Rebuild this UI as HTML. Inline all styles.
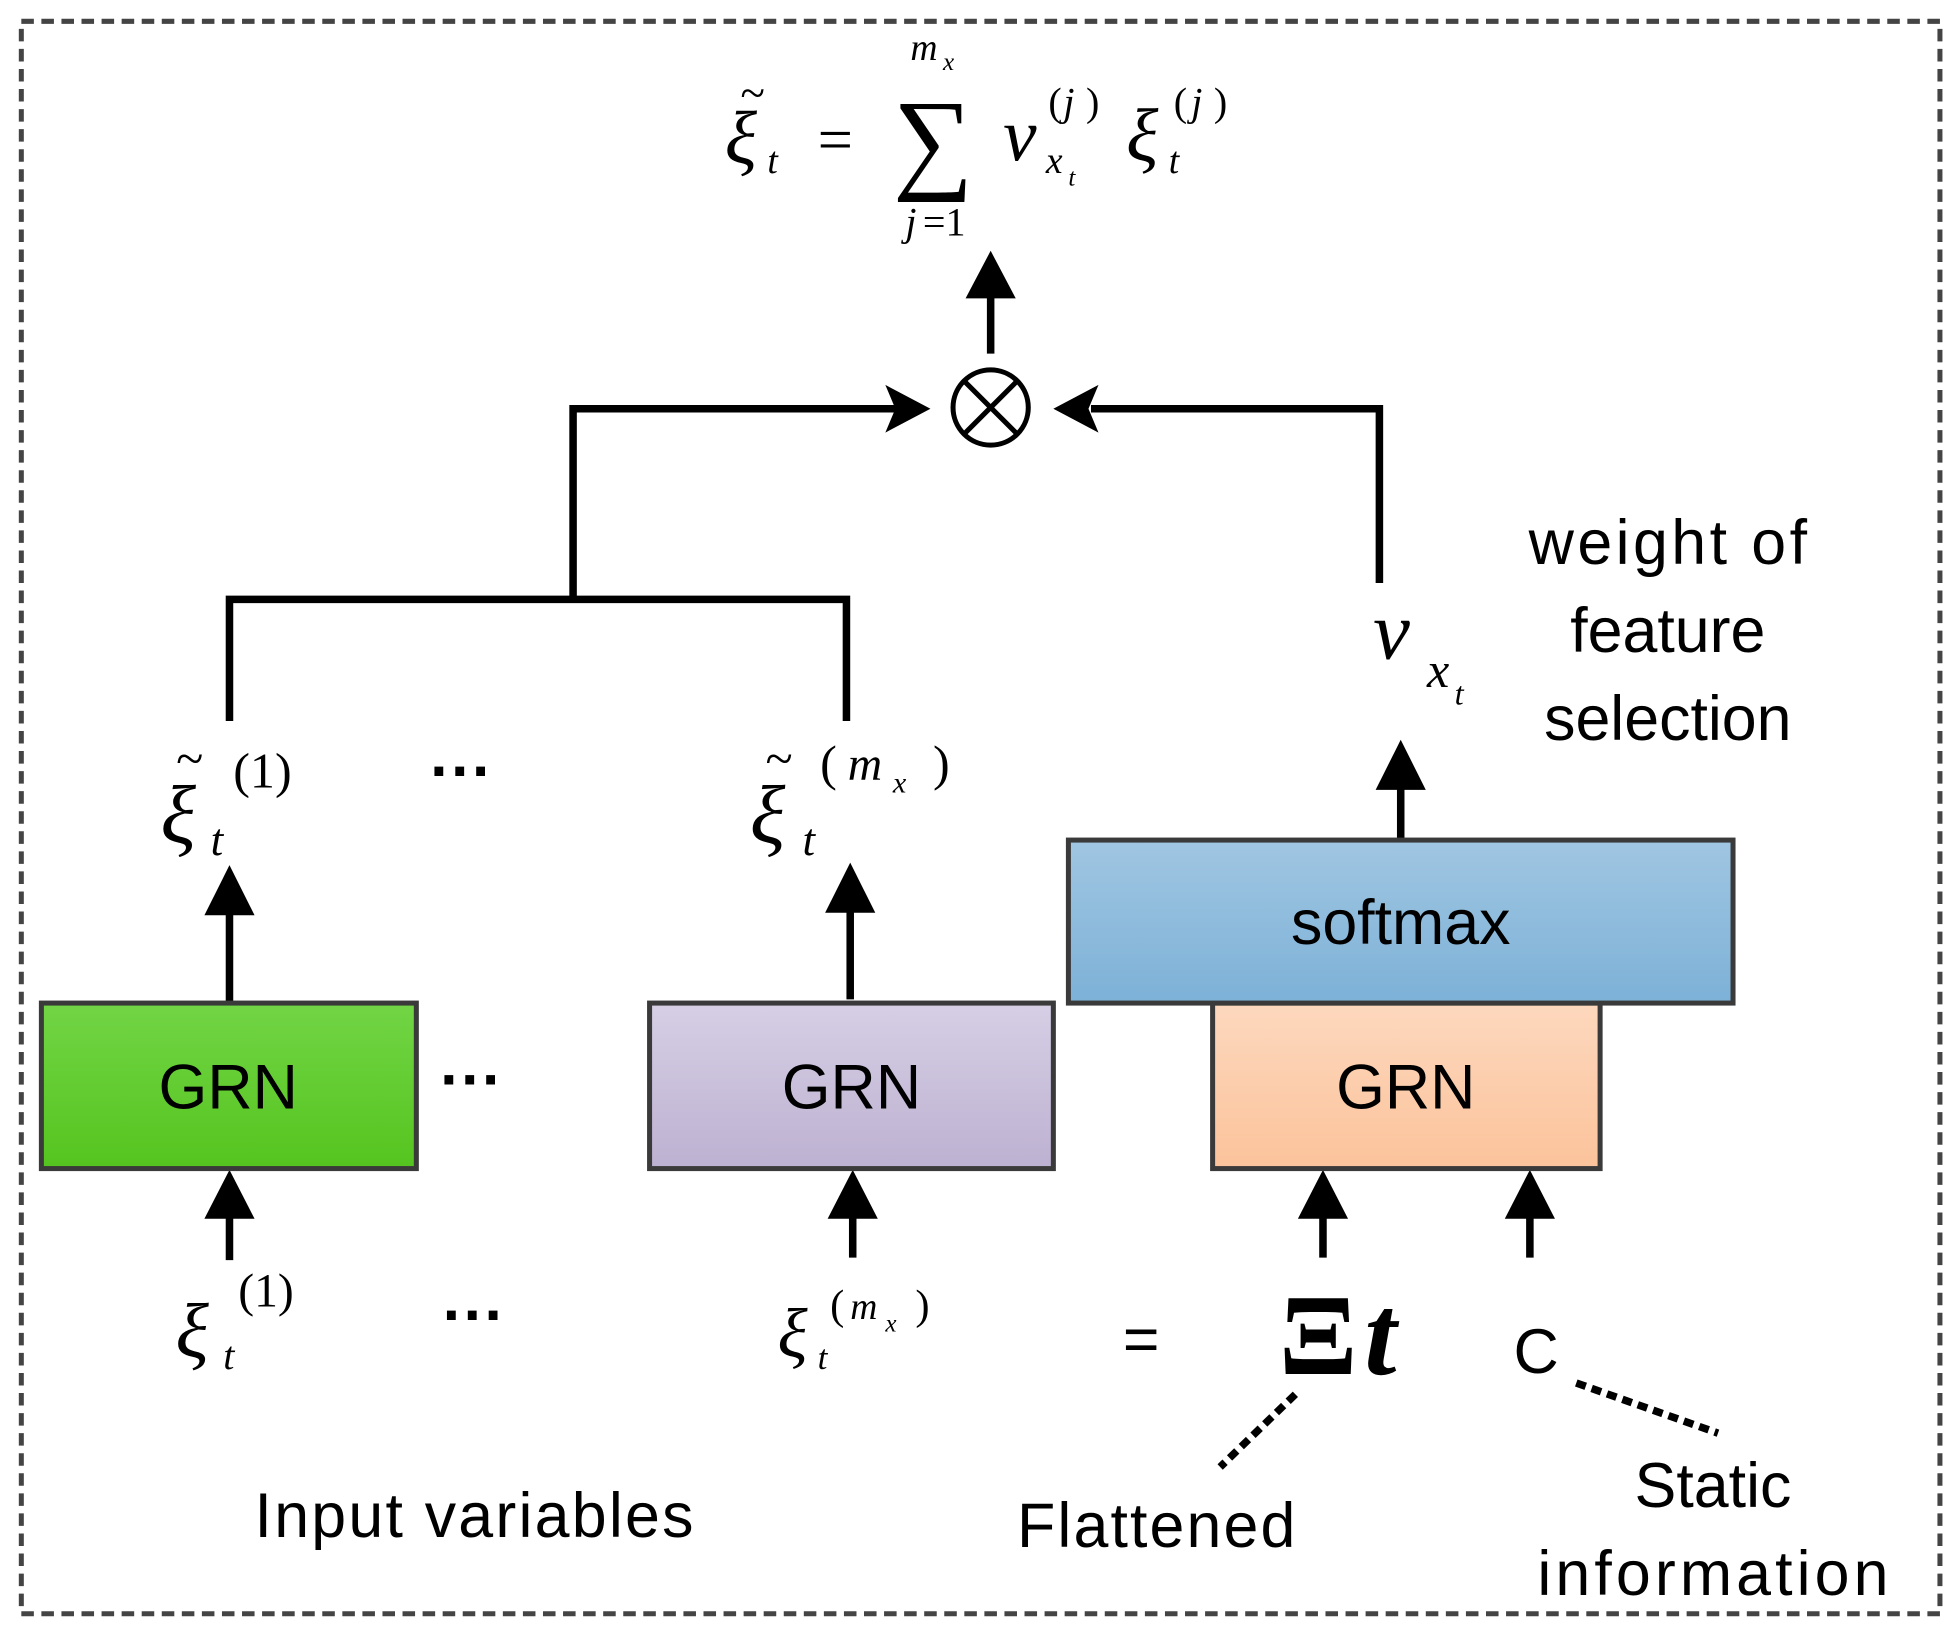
<!DOCTYPE html>
<html><head><style>html,body{margin:0;padding:0;background:#fff}svg{display:block}</style></head><body>
<svg width="1960" height="1630" viewBox="0 0 1563 1300" preserveAspectRatio="none" xmlns="http://www.w3.org/2000/svg">
<defs>
<linearGradient id="g1" x1="0" y1="0" x2="0" y2="1"><stop offset="0" stop-color="#72d545"/><stop offset="1" stop-color="#55c41f"/></linearGradient>
<linearGradient id="g2" x1="0" y1="0" x2="0" y2="1"><stop offset="0" stop-color="#d6cfe5"/><stop offset="1" stop-color="#bdb1d1"/></linearGradient>
<linearGradient id="g3" x1="0" y1="0" x2="0" y2="1"><stop offset="0" stop-color="#a0c6e2"/><stop offset="1" stop-color="#7db1d7"/></linearGradient>
<linearGradient id="g4" x1="0" y1="0" x2="0" y2="1"><stop offset="0" stop-color="#fdd8be"/><stop offset="1" stop-color="#fbc39b"/></linearGradient>
</defs>
<rect x="17" y="17" width="1530" height="1270" fill="none" stroke="#444" stroke-width="4" stroke-dasharray="10 6"/>
<g font-family="Liberation Serif, serif" font-style="italic" fill="#000">
<text x="578" y="130" font-size="60">ξ</text><text x="590" y="86" font-size="36">~</text><text x="612" y="138" font-size="30">t</text>
<text x="652" y="128" font-size="50" font-style="normal">=</text>
<text x="712" y="142" font-size="90" font-style="normal">∑</text>
<text x="726" y="48" font-size="30">m</text><text x="752" y="56" font-size="20">x</text>
<text x="722" y="188" font-size="32">j</text><text x="736" y="188" font-size="32" font-style="normal">=1</text>
<text x="800" y="128" font-size="60">v</text><text x="836" y="92" font-size="32" font-style="normal">(</text><text x="848" y="92" font-size="32">j</text><text x="866" y="92" font-size="32" font-style="normal">)</text>
<text x="834" y="138" font-size="30">x</text><text x="852" y="148" font-size="20">t</text>
<text x="898" y="128" font-size="60">ξ</text><text x="932" y="138" font-size="30">t</text><text x="936" y="92" font-size="32" font-style="normal">(</text><text x="950" y="92" font-size="32">j</text><text x="968" y="92" font-size="32" font-style="normal">)</text>
</g>
<g stroke="#000" stroke-width="6" fill="none">
<line x1="790" y1="282" x2="790" y2="230"/>
<polyline points="457,478 457,326 715,326"/>
<polyline points="1100,465 1100,326 870,326"/>
<polyline points="183,575 183,478 675,478 675,575"/>
<line x1="183" y1="800" x2="183" y2="720"/>
<line x1="678" y1="797" x2="678" y2="718"/>
<line x1="1117" y1="675" x2="1117" y2="620"/>
<line x1="183" y1="1005" x2="183" y2="962"/>
<line x1="680" y1="1003" x2="680" y2="962"/>
<line x1="1055" y1="1003" x2="1055" y2="962"/>
<line x1="1220" y1="1003" x2="1220" y2="962"/>
</g>
<g fill="#000">
<polygon points="790,200 770,238 810,238"/>
<polygon points="742,326 706,307 714,326 706,345"/>
<polygon points="840,326 876,307 868,326 876,345"/>
<polygon points="183,690 163,730 203,730"/>
<polygon points="678,688 658,728 698,728"/>
<polygon points="1117,590 1097,630 1137,630"/>
<polygon points="183,933 163,972 203,972"/>
<polygon points="680,933 660,972 700,972"/>
<polygon points="1055,933 1035,972 1075,972"/>
<polygon points="1220,933 1200,972 1240,972"/>
</g>
<circle cx="790" cy="325" r="30" fill="#fff" stroke="#000" stroke-width="4"/>
<line x1="769" y1="304" x2="811" y2="346" stroke="#000" stroke-width="4"/>
<line x1="811" y1="304" x2="769" y2="346" stroke="#000" stroke-width="4"/>
<rect x="33" y="800" width="299" height="132" fill="url(#g1)" stroke="#3a3a3a" stroke-width="4"/>
<rect x="518" y="800" width="322" height="132" fill="url(#g2)" stroke="#3a3a3a" stroke-width="4"/>
<rect x="967" y="800" width="309" height="132" fill="url(#g4)" stroke="#3a3a3a" stroke-width="4"/>
<rect x="852" y="670" width="530" height="130" fill="url(#g3)" stroke="#3a3a3a" stroke-width="4"/>
<g font-family="Liberation Sans, sans-serif" font-size="50" fill="#000" text-anchor="middle">
<text x="182" y="884">GRN</text><text x="679" y="884">GRN</text><text x="1121" y="884">GRN</text>
<text x="1117" y="753">softmax</text>
<text x="1330" y="450" textLength="222">weight of</text><text x="1330" y="520">feature</text><text x="1330" y="590">selection</text>
<text x="378" y="1226" textLength="350">Input variables</text><text x="922" y="1234" textLength="222">Flattened</text>
<text x="1366" y="1202">Static</text><text x="1366" y="1272" textLength="280">information</text>
<text x="1225" y="1095">C</text>
<text x="910" y="1085">=</text>
<text x="368" y="632" font-weight="bold">···</text><text x="376" y="878" font-weight="bold">···</text><text x="378" y="1066" font-weight="bold">···</text>
</g>
<g font-family="Liberation Serif, serif" font-style="italic" fill="#000">
<text x="128" y="672" font-size="66">ξ</text><text x="140" y="618" font-size="40">~</text><text x="168" y="682" font-size="36">t</text><text x="186" y="628" font-size="40" font-style="normal">(1)</text>
<text x="598" y="672" font-size="66">ξ</text><text x="610" y="618" font-size="40">~</text><text x="640" y="682" font-size="36">t</text>
<text x="654" y="622" font-size="40" font-style="normal">(</text><text x="676" y="622" font-size="38">m</text><text x="712" y="632" font-size="24">x</text><text x="744" y="622" font-size="40" font-style="normal">)</text>
<text x="1095" y="525" font-size="66">v</text><text x="1138" y="548" font-size="40">x</text><text x="1160" y="562" font-size="26">t</text>
<text x="140" y="1082" font-size="62">ξ</text><text x="178" y="1092" font-size="32">t</text><text x="190" y="1042" font-size="38" font-style="normal">(1)</text>
<text x="620" y="1082" font-size="56">ξ</text><text x="652" y="1092" font-size="28">t</text>
<text x="662" y="1052" font-size="34" font-style="normal">(</text><text x="678" y="1052" font-size="30">m</text><text x="706" y="1062" font-size="20">x</text><text x="730" y="1052" font-size="34" font-style="normal">)</text>
<text x="1020" y="1096" font-size="92" font-style="normal" font-weight="bold">Ξ</text><text x="1088" y="1096" font-size="92" font-weight="bold">t</text>
</g>
<g stroke="#000" stroke-width="6" stroke-dasharray="8 5">
<line x1="1033" y1="1112" x2="973" y2="1170"/>
<line x1="1257" y1="1103" x2="1370" y2="1143"/>
</g>
</svg>
</body></html>
